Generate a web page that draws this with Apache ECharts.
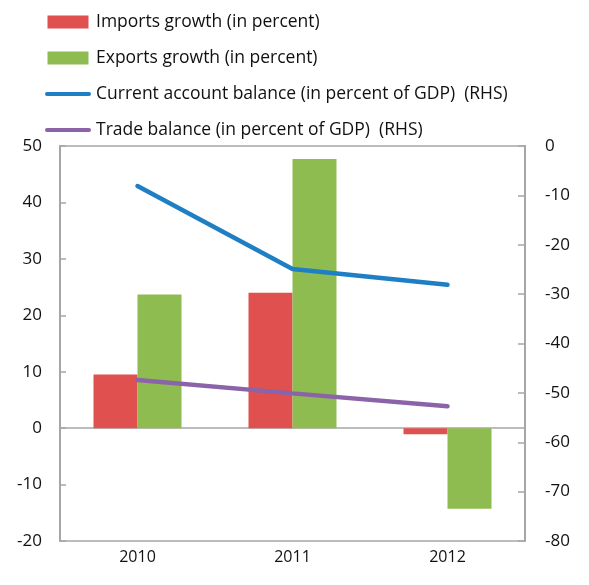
<!DOCTYPE html>
<html><head><meta charset="utf-8">
<script src="https://cdn.jsdelivr.net/npm/echarts@6/dist/echarts.min.js"></script>
<style>html,body{margin:0;padding:0;background:#fff}#c{width:589px;height:585px}</style>
</head><body><div id="c"></div>
<script>
const categories = ['2010', '2011', '2012'];
const importsGrowth = [9.5, 24.0, -1.1];
const exportsGrowth = [23.7, 47.7, -14.3];
const currentAccount = [-8.1, -24.9, -28.1];
const tradeBalance = [-47.4, -50.1, -52.7];
const leftTicks = {min: -20, max: 50, interval: 10};
const rightTicks = {min: -80, max: 0, interval: 10};

const FONT = 'Open Sans';
const AX = '#A6A6A6';
const LINE_ICON = 'path://M2,0 L44,0 A2,2 0 0 1 44,4 L2,4 A2,2 0 0 1 2,0 Z';
const RECT_ICON = 'path://M0,0 L41,0 L41,13 L0,13 Z';
const chart = echarts.init(document.getElementById('c'), null, {renderer: 'canvas'});
chart.setOption({
  animation: false,
  backgroundColor: '#fff',
  textStyle: {fontFamily: FONT},
  legend: {
    orient: 'vertical', left: 40, top: 8, itemGap: 18,
    itemWidth: 46, itemHeight: 13,
    textStyle: {fontFamily: FONT, fontSize: 17.5, color: '#111'},
    data: [
      {name: 'Imports growth (in percent)', icon: RECT_ICON, symbolKeepAspect: true},
      {name: 'Exports growth (in percent)', icon: RECT_ICON, symbolKeepAspect: true},
      {name: 'Current account balance (in percent of GDP)  (RHS)', icon: LINE_ICON, symbolKeepAspect: true},
      {name: 'Trade balance (in percent of GDP)  (RHS)', icon: LINE_ICON, symbolKeepAspect: true}
    ]
  },
  grid: {left: 60, right: 64, top: 146, bottom: 44, show: true, borderColor: AX, borderWidth: 1.5},
  xAxis: {
    type: 'category', data: categories,
    axisLine: {lineStyle: {color: AX, width: 1.5}},
    axisTick: {show: false},
    axisLabel: {fontFamily: FONT, fontSize: 16, color: '#111', margin: 8},
  },
  yAxis: [
    {type: 'value', min: leftTicks.min, max: leftTicks.max, interval: leftTicks.interval, position: 'left',
     axisLine: {show: true, lineStyle: {color: AX, width: 2}},
     axisTick: {show: true, inside: true, length: 6, lineStyle: {color: AX, width: 1.5}},
     splitLine: {show: false},
     axisLabel: {fontFamily: FONT, fontSize: 17, color: '#111', margin: 18}},
    {type: 'value', min: rightTicks.min, max: rightTicks.max, interval: rightTicks.interval, position: 'right',
     axisLine: {show: true, lineStyle: {color: AX, width: 2}},
     axisTick: {show: true, inside: true, length: 7, lineStyle: {color: AX, width: 1.5}},
     splitLine: {show: false},
     axisLabel: {fontFamily: FONT, fontSize: 17, color: '#111', margin: 20}}
  ],
  series: [
    {name: 'Imports growth (in percent)', type: 'bar', data: importsGrowth, barWidth: 44, barGap: '0%',
     itemStyle: {color: '#E0504E'}, yAxisIndex: 0},
    {name: 'Exports growth (in percent)', type: 'bar', data: exportsGrowth, barWidth: 44, barGap: '0%',
     itemStyle: {color: '#8FBC50'}, yAxisIndex: 0},
    {name: 'Current account balance (in percent of GDP)  (RHS)', type: 'line', data: currentAccount, yAxisIndex: 1,
     symbol: 'none', lineStyle: {color: '#1F7FC4', width: 4.5, cap: 'round'}, itemStyle: {color: '#1F7FC4'}},
    {name: 'Trade balance (in percent of GDP)  (RHS)', type: 'line', data: tradeBalance, yAxisIndex: 1,
     symbol: 'none', lineStyle: {color: '#8B63A8', width: 4.5, cap: 'round'}, itemStyle: {color: '#8B63A8'}}
  ]
});
</script></body></html>
